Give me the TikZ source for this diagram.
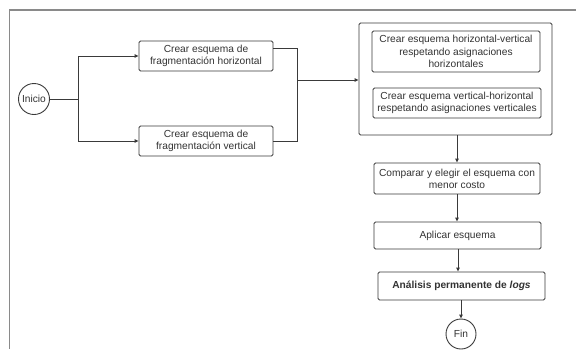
\documentclass[tikz,border=0pt]{standalone}
\usepackage{fontspec}
\setmainfont{Liberation Sans}
\usetikzlibrary{arrows.meta}
\definecolor{ln}{HTML}{3A3A3A}
\definecolor{tx}{HTML}{333333}
\definecolor{fr}{HTML}{8A8A8A}
\begin{document}
\begin{tikzpicture}[x=1pt,y=-1pt,
  box/.style={draw=ln,line width=0.9pt,rounded corners=1.5pt,align=center,
    inner sep=1pt,text=tx,font=\fontsize{10.2}{12.3}\selectfont},
  circ/.style={draw=ln,line width=0.9pt,circle,inner sep=0pt,text=tx,
    font=\fontsize{10.2}{12.3}\selectfont},
  conn/.style={draw=ln,line width=0.9pt},
  arr/.style={conn,-{Triangle[length=4pt,width=3.5pt]}}]
\useasboundingbox (0,0) rectangle (576,349);
\fill[white] (0,0) rectangle (576,349);
\draw[fr,line width=1.1pt] (576,10) -- (9.5,10) -- (9.5,349);

\node[circ,minimum size=31pt] (ini) at (34,99) {Inicio};
\node[box,minimum width=134pt,minimum height=30pt] (h) at (206,56)
  {Crear esquema de\\fragmentación horizontal};
\node[box,minimum width=134pt,minimum height=30pt] (v) at (206,141)
  {Crear esquema de\\fragmentación vertical};
\node[box,minimum width=193pt,minimum height=112pt] (big) at (455.5,79) {};
\node[box,minimum width=168pt,minimum height=41pt] (hv) at (456,51.5)
  {Crear esquema horizontal-vertical\\respetando asignaciones\\horizontales};
\node[box,minimum width=168pt,minimum height=30pt] (vh) at (457,103)
  {Crear esquema vertical-horizontal\\respetando asignaciones verticales};
\node[box,minimum width=166pt,minimum height=31pt] (cmp) at (457,178.5)
  {Comparar y elegir el esquema con\\menor costo};
\node[box,minimum width=167pt,minimum height=27pt] (apl) at (457.5,235.5)
  {Aplicar esquema};
\node[box,minimum width=167pt,minimum height=28pt] (ana) at (461.5,286)
  {\bfseries Análisis permanente de \textit{logs}};
\node[circ,minimum size=30pt] (fin) at (461,334) {Fin};

\coordinate (sp) at (78,99);
\coordinate (mg) at (297,80);
\draw[conn] (ini.east) -- (sp);
\draw[arr] (sp) |- (h.west);
\draw[arr] (sp) |- (v.west);
\draw[conn] ([yshift=8pt]h.east) -| (mg);
\draw[conn] (v.east) -| (mg);
\draw[arr] (mg) -- (mg -| big.west);
\draw[arr] (big.south -| cmp.north) -- (cmp.north);
\draw[arr] (cmp.south) -- (cmp.south |- apl.north);
\draw[arr] ([xshift=0.5pt]apl.south) -- ([xshift=0.5pt]apl.south |- ana.north);
\draw[arr] (ana.south -| fin.north) -- (fin.north);
\end{tikzpicture}
\end{document}
